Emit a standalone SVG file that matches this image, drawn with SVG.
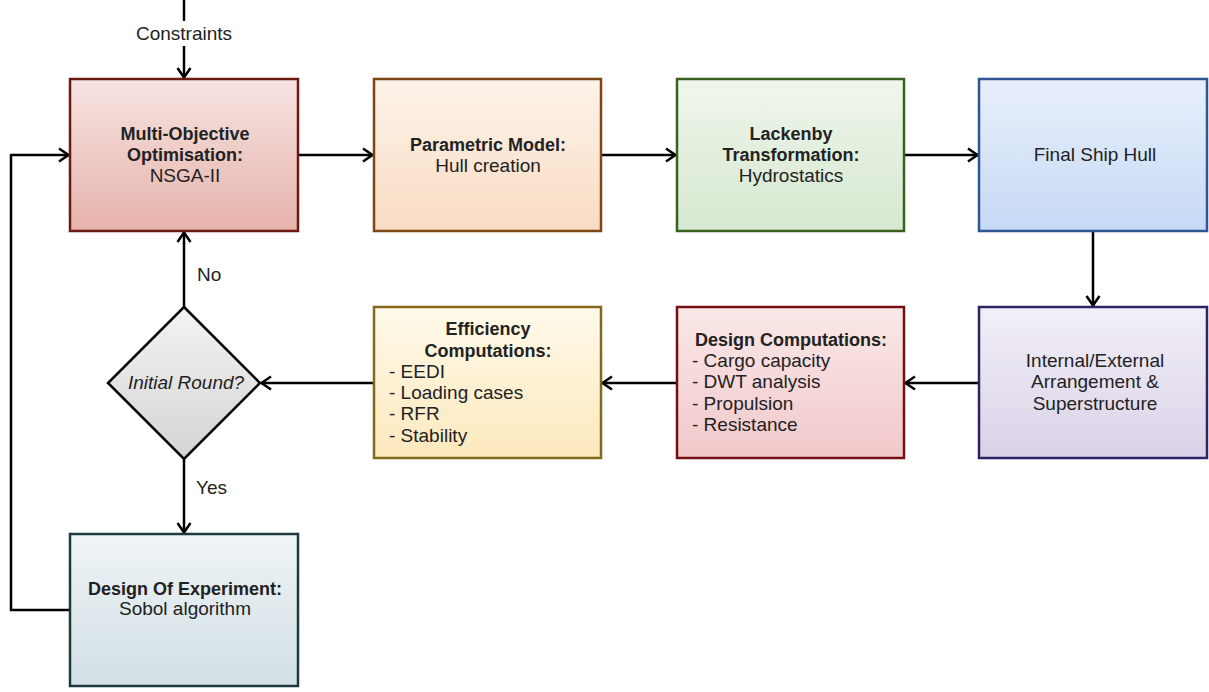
<svg xmlns="http://www.w3.org/2000/svg" width="1209" height="692" viewBox="0 0 1209 692">
<defs>
<style>
.t{font-family:"Liberation Sans",Arial,sans-serif;font-size:19px;fill:#222;}
.b{font-weight:bold;font-size:18px;}
.c{text-anchor:middle;}
.box{stroke-width:2.5;}
.ln{fill:none;stroke:#000;stroke-width:2.5;}
</style>
<marker id="ah" markerUnits="userSpaceOnUse" viewBox="0 0 12 16" markerWidth="12" markerHeight="16" refX="11" refY="8" orient="auto">
<path d="M1,1.5 L10.5,8 L1,14.5" fill="none" stroke="#000" stroke-width="2.5"/>
</marker>
<linearGradient id="g1" x1="0" y1="0" x2="0" y2="1"><stop offset="0" stop-color="#f6e3e1"/><stop offset="1" stop-color="#e6b3ab"/></linearGradient>
<linearGradient id="g2" x1="0" y1="0" x2="0" y2="1"><stop offset="0" stop-color="#fdf3ea"/><stop offset="1" stop-color="#f9dbc2"/></linearGradient>
<linearGradient id="g3" x1="0" y1="0" x2="0" y2="1"><stop offset="0" stop-color="#f0f6ec"/><stop offset="1" stop-color="#d5e8cf"/></linearGradient>
<linearGradient id="g4" x1="0" y1="0" x2="0" y2="1"><stop offset="0" stop-color="#e9f0fc"/><stop offset="1" stop-color="#c6d9f5"/></linearGradient>
<linearGradient id="g5" x1="0" y1="0" x2="0" y2="1"><stop offset="0" stop-color="#f2eff7"/><stop offset="1" stop-color="#dad2e8"/></linearGradient>
<linearGradient id="g6" x1="0" y1="0" x2="0" y2="1"><stop offset="0" stop-color="#fae8e8"/><stop offset="1" stop-color="#f1c8ca"/></linearGradient>
<linearGradient id="g7" x1="0" y1="0" x2="0" y2="1"><stop offset="0" stop-color="#fffaea"/><stop offset="1" stop-color="#fce8bd"/></linearGradient>
<linearGradient id="g8" x1="0" y1="0" x2="0" y2="1"><stop offset="0" stop-color="#eff4f6"/><stop offset="1" stop-color="#d1dfe4"/></linearGradient>
<linearGradient id="g9" x1="0" y1="0" x2="0" y2="1"><stop offset="0" stop-color="#f3f3f3"/><stop offset="1" stop-color="#d4d4d4"/></linearGradient>
</defs>
<rect width="1209" height="692" fill="#fff"/>

<g id="connectors">
<line class="ln" x1="184" y1="0" x2="184" y2="21"/>
<line class="ln" x1="184" y1="46" x2="184" y2="78" marker-end="url(#ah)"/>
<line class="ln" x1="298" y1="155" x2="373" y2="155" marker-end="url(#ah)"/>
<line class="ln" x1="601" y1="155" x2="676" y2="155" marker-end="url(#ah)"/>
<line class="ln" x1="904" y1="155" x2="978" y2="155" marker-end="url(#ah)"/>
<line class="ln" x1="1093" y1="231" x2="1093" y2="306" marker-end="url(#ah)"/>
<line class="ln" x1="979" y1="383" x2="905" y2="383" marker-end="url(#ah)"/>
<line class="ln" x1="677" y1="383" x2="602" y2="383" marker-end="url(#ah)"/>
<line class="ln" x1="374" y1="383" x2="261" y2="383" marker-end="url(#ah)"/>
<line class="ln" x1="184" y1="307" x2="184" y2="232" marker-end="url(#ah)"/>
<line class="ln" x1="184" y1="459" x2="184" y2="533" marker-end="url(#ah)"/>
<polyline class="ln" points="70,610 11,610 11,155 69,155" marker-end="url(#ah)"/>
<text class="t c" x="184" y="40">Constraints</text>
<text class="t" x="197" y="281">No</text>
<text class="t" x="196" y="494">Yes</text>
</g>

<g id="moo">
<rect class="box" x="70" y="79" width="228" height="152" fill="url(#g1)" stroke="#6a1a10"/>
<text class="t c b" x="185" y="140">Multi-Objective</text>
<text class="t c b" x="185" y="161">Optimisation:</text>
<text class="t c" x="185" y="182">NSGA-II</text>
</g>

<g id="parametric">
<rect class="box" x="374" y="79" width="227" height="152" fill="url(#g2)" stroke="#7e4614"/>
<text class="t c b" x="488" y="151">Parametric Model:</text>
<text class="t c" x="488" y="172">Hull creation</text>
</g>

<g id="lackenby">
<rect class="box" x="677" y="79" width="227" height="152" fill="url(#g3)" stroke="#38601f"/>
<text class="t c b" x="791" y="140">Lackenby</text>
<text class="t c b" x="791" y="161">Transformation:</text>
<text class="t c" x="791" y="182">Hydrostatics</text>
</g>

<g id="finalhull">
<rect class="box" x="979" y="79" width="228" height="152" fill="url(#g4)" stroke="#2f5593"/>
<text class="t c" x="1095" y="161">Final Ship Hull</text>
</g>

<g id="arrangement">
<rect class="box" x="979" y="307" width="228" height="151" fill="url(#g5)" stroke="#2c2563"/>
<text class="t c" x="1095" y="367">Internal/External</text>
<text class="t c" x="1095" y="388">Arrangement &amp;</text>
<text class="t c" x="1095" y="410">Superstructure</text>
</g>

<g id="designcomp">
<rect class="box" x="677" y="307" width="227" height="151" fill="url(#g6)" stroke="#741014"/>
<text class="t c b" x="791" y="346">Design Computations:</text>
<text class="t" x="692" y="367">- Cargo capacity</text>
<text class="t" x="692" y="388">- DWT analysis</text>
<text class="t" x="692" y="410">- Propulsion</text>
<text class="t" x="692" y="431">- Resistance</text>
</g>

<g id="efficiency">
<rect class="box" x="374" y="307" width="227" height="151" fill="url(#g7)" stroke="#85691a"/>
<text class="t c b" x="488" y="335">Efficiency</text>
<text class="t c b" x="488" y="357">Computations:</text>
<text class="t" x="389" y="378">- EEDI</text>
<text class="t" x="389" y="399">- Loading cases</text>
<text class="t" x="389" y="420">- RFR</text>
<text class="t" x="389" y="442">- Stability</text>
</g>

<g id="decision">
<polygon points="184,307 260,383 184,459 108,383" fill="url(#g9)" stroke="#000" stroke-width="2.5"/>
<text class="t c" x="186" y="389" font-style="italic">Initial Round?</text>
</g>

<g id="doe">
<rect class="box" x="70" y="534" width="228" height="152" fill="url(#g8)" stroke="#1d3a3f"/>
<text class="t c b" x="185" y="595">Design Of Experiment:</text>
<text class="t c" x="185" y="615">Sobol algorithm</text>
</g>
</svg>
